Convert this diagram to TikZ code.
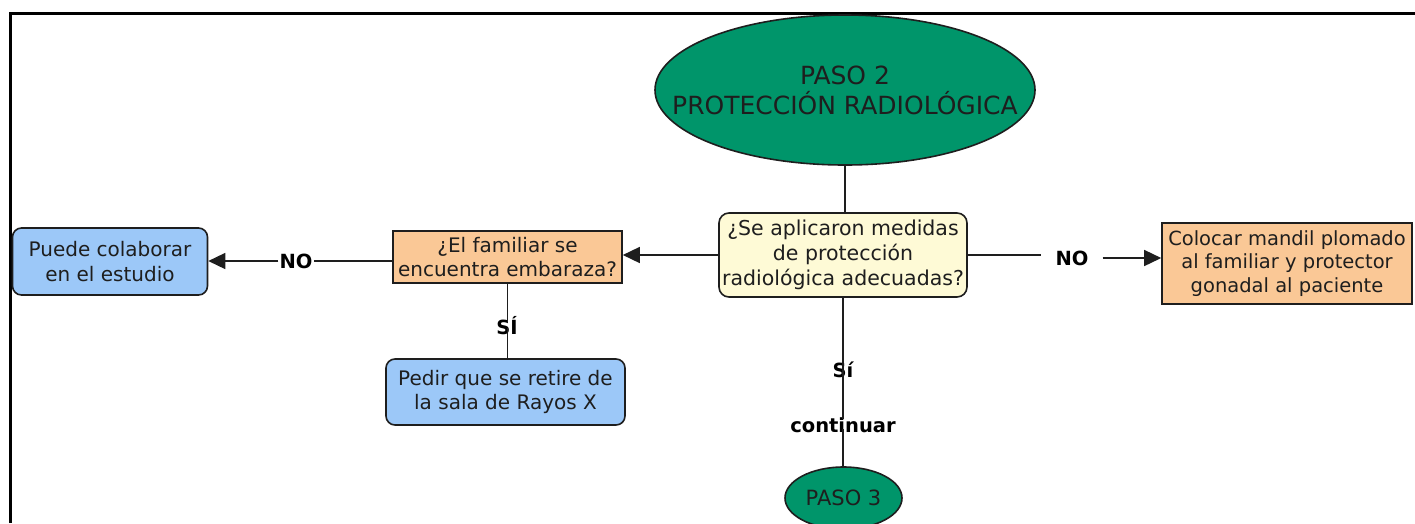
\documentclass[tikz,border=0pt]{standalone}
\usepackage{fontspec}
\setmainfont{DejaVu Sans}
\usetikzlibrary{shapes.geometric,arrows.meta}
\definecolor{grn}{HTML}{00956A}
\definecolor{blu}{HTML}{9CC8F8}
\definecolor{org}{HTML}{FAC896}
\definecolor{ylw}{HTML}{FEFAD6}
\definecolor{txt}{HTML}{1E1E1E}
\tikzset{
  oval/.style={ellipse, draw=txt, fill=grn, line width=1.6pt, inner sep=0pt},
  ovaltext/.style={inner sep=0pt, text=txt, align=center},
  bluebox/.style={draw=txt, fill=blu, rounded corners=9pt, line width=1.6pt, inner sep=0pt, text=txt, align=center, font=\fontsize{20}{24.5}\selectfont},
  orgbox/.style={draw=txt, fill=org, line width=1.6pt, inner sep=0pt, text=txt, align=center, font=\fontsize{20}{24}\selectfont},
  ylwbox/.style={draw=txt, fill=ylw, rounded corners=10pt, line width=1.6pt, inner sep=0pt, text=txt, align=center, font=\fontsize{20.5}{25}\selectfont},
  lbl/.style={font=\bfseries\fontsize{19.5}{22}\selectfont, inner sep=0pt, text=black},
  conn/.style={draw=txt, line width=1.5pt},
  arr/.style={conn, -{Triangle[length=17pt,width=16pt]}},
}
\begin{document}
\begin{tikzpicture}[x=1pt,y=-1pt]
\useasboundingbox (0,0) rectangle (1415,523);
\fill[white] (0,0) rectangle (1415,523);
% frame (left and top edges visible)
\draw[line width=3pt] (10,523) -- (10,13) -- (1415,13);

\node[oval, minimum width=380pt, minimum height=150pt] (paso2) at (845,90) {};
\node[ovaltext, font=\fontsize{25}{30}\selectfont] (paso2t) at (845,90) {PASO 2\\PROTECCIÓN RADIOLÓGICA};
\node[ylwbox, minimum width=248pt, minimum height=84pt] (q1) at (843,255) {¿Se aplicaron medidas\\de protección\\radiológica adecuadas?};
\node[orgbox, minimum width=229pt, minimum height=52pt] (q2) at (507.5,257) {¿El familiar se\\encuentra embaraza?};
\node[bluebox, minimum width=195pt, minimum height=67pt] (b1) at (110,261.5) {Puede colaborar\\en el estudio};
\node[bluebox, minimum width=239pt, minimum height=66pt] (b2) at (505.5,392) {Pedir que se retire de\\la sala de Rayos X};
\node[orgbox, minimum width=250pt, minimum height=81pt, font=\fontsize{19.5}{23.5}\selectfont] (o2) at (1287,263.5) {Colocar mandil plomado\\al familiar y protector\\gonadal al paciente};
\node[oval, minimum width=117pt, minimum height=62pt] (paso3) at (843.5,498) {};
\node[ovaltext, font=\fontsize{21}{25}\selectfont] (paso3t) at (843.5,498) {PASO 3};

% labels
\node[lbl] (noL) at (296,261) {NO};
\node[lbl] (noR) at (1072,258) {NO};
\node[lbl] (siL) at (507,326) {SÍ};
\node[lbl] (siC) at (843,370) {Sí};
\node[lbl] (cont) at (843,425) {continuar};

% connectors
\draw[conn] (paso2.south) -- (paso2.south |- q1.north);
\draw[arr] (q1.west) -- (q1.west -| q2.east);
\draw[conn] (noL.east -| q2.west) -- ([xshift=1pt]noL.east);
\draw[arr] ([xshift=-1pt]noL.west) -- (noL.west -| b1.east);
\draw[conn] (q2.south) -- ([yshift=-5pt]q2.south |- siL.north);
\draw[conn] ([yshift=7pt]q2.south |- siL.south) -- (q2.south |- b2.north);
\draw[conn] (q1.east) -- ([xshift=-14pt]q1.east -| noR.west);
\draw[arr] ([xshift=14pt]noR.east) -- (noR.east -| o2.west);
\draw[conn] (q1.south) -- ([yshift=-17pt]siC.north);
\draw[conn] ([yshift=12pt]siC.south) -- ([yshift=-2pt]cont.north);
\draw[conn] ([yshift=4pt]cont.south) -- (q1.south |- paso3.north);
\end{tikzpicture}
\end{document}
